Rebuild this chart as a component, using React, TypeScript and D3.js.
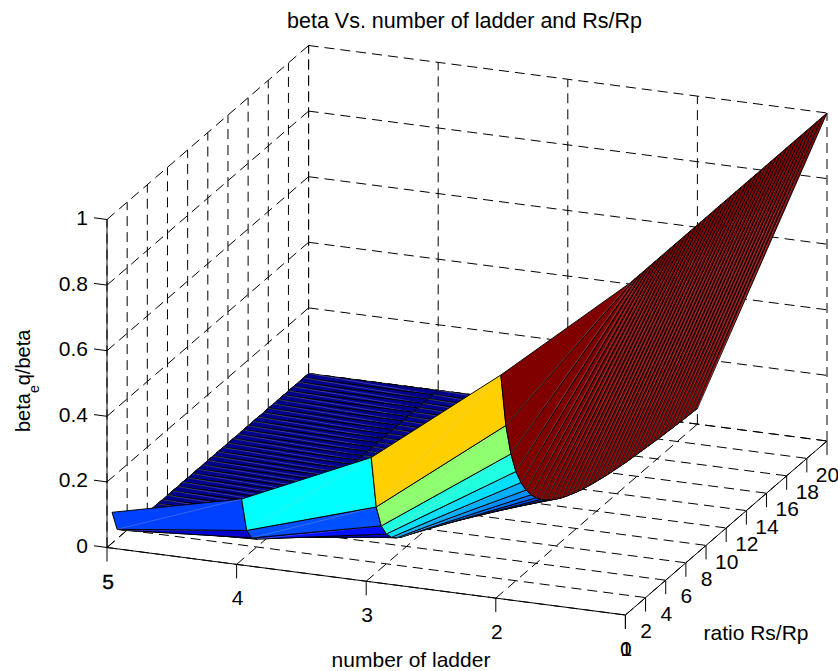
import React, { useEffect, useRef } from "react";
import * as d3 from "d3";

const ladderCounts = [1, 2, 3, 4, 5];
const ratioValues = [
  0.5, 1, 1.5, 2, 2.5, 3, 3.5, 4, 4.5, 5, 5.5, 6, 6.5, 7, 7.5, 8, 8.5, 9, 9.5, 10,
  10.5, 11, 11.5, 12, 12.5, 13, 13.5, 14, 14.5, 15, 15.5, 16, 16.5, 17, 17.5, 18, 18.5, 19, 19.5, 20,
];

// beta_eq/beta read along each ladder column, one value per ratio
const ladder1 = [
  1, 1, 1, 1, 1, 1, 1, 1, 1, 1, 1, 1, 1, 1, 1, 1, 1, 1, 1, 1,
  1, 1, 1, 1, 1, 1, 1, 1, 1, 1, 1, 1, 1, 1, 1, 1, 1, 1, 1, 1,
];
const ladder2 = [
  0.667, 0.5, 0.4, 0.333, 0.286, 0.25, 0.222, 0.2, 0.182, 0.167, 0.154, 0.143, 0.133, 0.125, 0.118, 0.111, 0.105, 0.1, 0.095, 0.091,
  0.087, 0.083, 0.08, 0.077, 0.074, 0.071, 0.069, 0.067, 0.065, 0.063, 0.061, 0.059, 0.057, 0.056, 0.054, 0.053, 0.051, 0.05, 0.049, 0.048,
];
const ladder3 = [
  0.364, 0.2, 0.129, 0.091, 0.068, 0.053, 0.042, 0.034, 0.029, 0.024, 0.021, 0.018, 0.016, 0.014, 0.013, 0.011, 0.01, 0.009, 0.008, 0.008,
  0.007, 0.006, 0.006, 0.006, 0.005, 0.005, 0.004, 0.004, 0.004, 0.004, 0.003, 0.003, 0.003, 0.003, 0.003, 0.003, 0.003, 0.002, 0.002, 0.002,
];
const ladder4 = [
  0.186, 0.077, 0.041, 0.024, 0.016, 0.011, 0.008, 0.006, 0.005, 0.004, 0.003, 0.002, 0.002, 0.002, 0.001, 0.001, 0.001, 0.001, 0.001, 0.001,
  0, 0, 0, 0, 0, 0, 0, 0, 0, 0, 0, 0, 0, 0, 0, 0, 0, 0, 0, 0,
];
const ladder5 = [
  0.094, 0.029, 0.013, 0.007, 0.004, 0.002, 0.001, 0.001, 0.001, 0.001, 0, 0, 0, 0, 0, 0, 0, 0, 0, 0,
  0, 0, 0, 0, 0, 0, 0, 0, 0, 0, 0, 0, 0, 0, 0, 0, 0, 0, 0, 0,
];
const surface = [ladder1, ladder2, ladder3, ladder4, ladder5];

const xTicks = [5, 4, 3, 2, 1];
const yTicks = [0, 2, 4, 6, 8, 10, 12, 14, 16, 18, 20];
const zTicks = [0, 0.2, 0.4, 0.6, 0.8, 1];

const FONT = "'Liberation Sans', Arial, sans-serif";

// matlab jet(64)
const clamp01 = (v: number) => Math.max(0, Math.min(1, v));
const jet = d3.range(64).map((i) => {
  const v = (i + 1) / 64;
  const r = clamp01(Math.min(4 * v - 1.5, -4 * v + 4.5));
  const g = clamp01(Math.min(4 * v - 0.5, -4 * v + 3.5));
  const b = clamp01(Math.min(4 * v + 0.5, -4 * v + 2.5));
  return d3.rgb(r * 255, g * 255, b * 255).formatHex();
});

const App = () => {
  const svgRef = useRef<SVGSVGElement>(null);

  useEffect(() => {
    const svg = d3.select(svgRef.current);
    svg.selectAll("*").remove();

    const width = 838;
    const height = 671;
    svg.attr("width", width).attr("height", height);

    // oblique axes: each data axis adds its own screen offset
    const xPx = d3.scaleLinear().domain([5, 1]).range([0, 518.4]);
    const xPy = d3.scaleLinear().domain([5, 1]).range([0, 67.5]);
    const yPx = d3.scaleLinear().domain([0, 20]).range([0, 201.6]);
    const yPy = d3.scaleLinear().domain([0, 20]).range([0, -174]);
    const zPy = d3.scaleLinear().domain([0, 1]).range([0, -328]);
    const color = d3.scaleQuantize<string>().domain([0, 1]).range(jet);

    const project = (x: number, y: number, z: number): [number, number] => [
      107 + xPx(x) + yPx(y),
      547.5 + xPy(x) + yPy(y) + zPy(z),
    ];
    const line = d3.line();

    // Grid on floor and the two back walls
    const grid = svg.append("g")
      .attr("fill", "none")
      .attr("stroke", "#000")
      .attr("stroke-width", 1)
      .attr("stroke-dasharray", "10,6");
    const gridLine = (a: [number, number], b: [number, number]) =>
      grid.append("path").attr("d", line([a, b]));

    xTicks.forEach((x) => {
      gridLine(project(x, 0, 0), project(x, 20, 0));
      gridLine(project(x, 20, 0), project(x, 20, 1));
    });
    yTicks.forEach((y) => {
      gridLine(project(5, y, 0), project(1, y, 0));
      gridLine(project(5, y, 0), project(5, y, 1));
    });
    zTicks.forEach((z) => {
      gridLine(project(5, 20, z), project(1, 20, z));
      gridLine(project(5, 0, z), project(5, 20, z));
    });

    // Surface, far patches first
    const patches = svg.append("g");
    for (let col = ladderCounts.length - 2; col >= 0; col--) {
      for (let row = ratioValues.length - 2; row >= 0; row--) {
        const a = project(ladderCounts[col], ratioValues[row], surface[col][row]);
        const b = project(ladderCounts[col + 1], ratioValues[row], surface[col + 1][row]);
        const c = project(ladderCounts[col + 1], ratioValues[row + 1], surface[col + 1][row + 1]);
        const d = project(ladderCounts[col], ratioValues[row + 1], surface[col][row + 1]);
        patches.append("path")
          .attr("d", line([a, b, c, d]) + "Z")
          .attr("fill", color(surface[col][row]))
          .attr("stroke", "#000")
          .attr("stroke-width", 0.95)
          .attr("stroke-linejoin", "round");
        // seam of the two triangles of a patch
        patches.append("path")
          .attr("d", line([a, c]))
          .attr("fill", "none")
          .attr("stroke", "#bbb")
          .attr("stroke-opacity", 0.6)
          .attr("stroke-width", 0.5);
      }
    }

    // Axis lines and ticks
    const axes = svg.append("g").attr("fill", "none").attr("stroke", "#000").attr("stroke-width", 1);
    const axisLine = (a: [number, number], b: [number, number]) =>
      axes.append("path").attr("d", line([a, b]));
    axisLine(project(5, 0, 0), project(5, 0, 1));
    axisLine(project(5, 0, 0), project(1, 0, 0));
    axisLine(project(1, 0, 0), project(1, 20, 0));

    const labels = svg.append("g")
      .attr("font-family", FONT)
      .attr("font-size", 21)
      .attr("fill", "#000");

    xTicks.forEach((x) => {
      const [px, py] = project(x, 0, 0);
      axisLine([px, py], [px, py + 14]);
      labels.append("text")
        .attr("x", px + 1)
        .attr("y", py + 41)
        .attr("text-anchor", "middle")
        .attr("stroke", x === 5 ? "#000" : "none")
        .attr("stroke-width", 0.4)
        .text(x);
    });
    yTicks.forEach((y) => {
      const [px, py] = project(1, y, 0);
      axisLine([px, py], [px, py + 14]);
      labels.append("text")
        .attr("x", px + 0.5)
        .attr("y", py + 40.5)
        .attr("text-anchor", "middle")
        .text(y);
    });
    zTicks.forEach((z) => {
      const [px, py] = project(5, 0, z);
      axisLine([px, py], [px - 13, py - 1.7]);
      labels.append("text")
        .attr("x", px - 19)
        .attr("y", py + 5.5)
        .attr("text-anchor", "end")
        .text(z);
    });

    // Titles
    labels.append("text")
      .attr("x", 464.5)
      .attr("y", 28)
      .attr("font-size", 21.5)
      .attr("text-anchor", "middle")
      .text("beta Vs. number of ladder and Rs/Rp");
    labels.append("text")
      .attr("x", 411)
      .attr("y", 667)
      .attr("text-anchor", "middle")
      .text("number of ladder");
    labels.append("text")
      .attr("x", 756)
      .attr("y", 640)
      .attr("text-anchor", "middle")
      .text("ratio Rs/Rp");

    const zLabel = labels.append("text")
      .attr("transform", "translate(30,432) rotate(-90)")
      .attr("font-size", 20);
    zLabel.append("tspan").text("beta");
    zLabel.append("tspan").attr("dy", 9).attr("font-size", 14).text("e");
    zLabel.append("tspan").attr("dy", -9).text("q/beta");
  }, []);

  return <svg ref={svgRef} style={{ position: "absolute", left: 0, top: 0, background: "#fff" }}></svg>;
};

export default App;
